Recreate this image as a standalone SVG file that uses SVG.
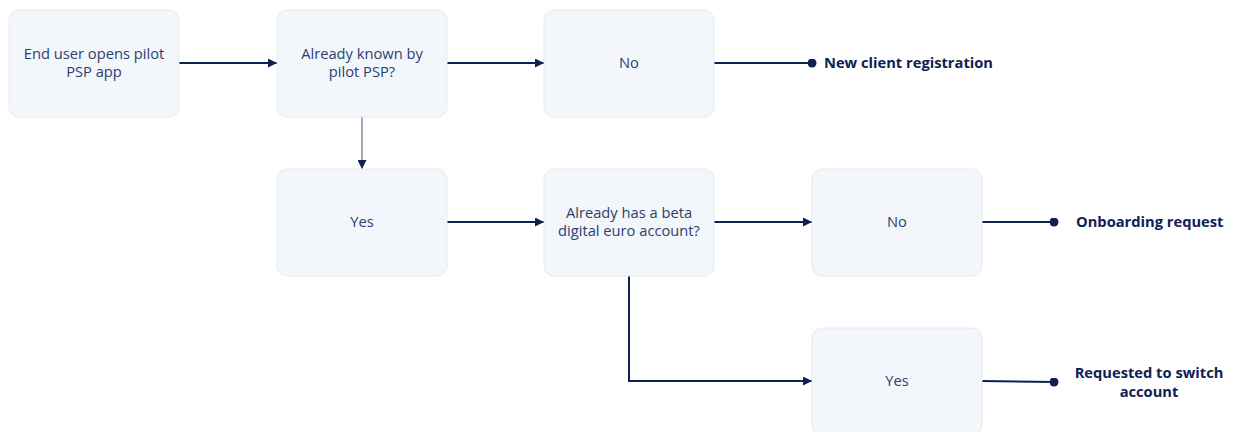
<svg xmlns="http://www.w3.org/2000/svg" width="1233" height="432" viewBox="0 0 1233 432">
  <style>
    .box { fill: #f3f6fb; stroke: #e6eaf1; stroke-width: 1; }
    .lbl { font-family: "Open Sans", "Liberation Sans", sans-serif; font-size: 14.7px; fill: #2c3f6e; text-anchor: middle; }
    .out { font-family: "Open Sans", "Liberation Sans", sans-serif; font-size: 14.7px; font-weight: bold; fill: #0e2152; }
    .edge { fill: none; stroke: #0e2152; stroke-width: 2; }
    .thin { fill: none; stroke: #6b7280; stroke-width: 1.2; }
  </style>
  <defs>
    <marker id="arrow" viewBox="0 0 10 10" refX="10" refY="5" markerWidth="9" markerHeight="9" markerUnits="userSpaceOnUse" orient="auto">
      <path d="M0,0 L10,5 L0,10 z" fill="#0e2152"/>
    </marker>
    <marker id="dot" viewBox="0 0 10 10" refX="5" refY="5" markerWidth="9" markerHeight="9" markerUnits="userSpaceOnUse">
      <circle cx="5" cy="5" r="5" fill="#0e2152"/>
    </marker>
  </defs>

  <g id="connectors">
    <path class="edge" d="M179,63 H277" marker-end="url(#arrow)"/>
    <path class="edge" d="M447,63 H544" marker-end="url(#arrow)"/>
    <path class="edge" d="M714,63 H812" marker-end="url(#dot)"/>
    <path class="thin" d="M362,117 V169" marker-end="url(#arrow)"/>
    <path class="edge" d="M447,222 H544" marker-end="url(#arrow)"/>
    <path class="edge" d="M714,222 H812" marker-end="url(#arrow)"/>
    <path class="edge" d="M982,222 H1054" marker-end="url(#dot)"/>
    <path class="edge" d="M629,276 V381 H812" marker-end="url(#arrow)"/>
    <path class="edge" d="M982,381 L1054,382" marker-end="url(#dot)"/>
  </g>

  <g id="start">
    <rect class="box" x="9" y="10" width="170" height="107" rx="10"/>
    <text class="lbl" x="94" y="59">End user opens pilot</text>
    <text class="lbl" x="94" y="77">PSP app</text>
  </g>
  <g id="known">
    <rect class="box" x="277" y="10" width="170" height="107" rx="10"/>
    <text class="lbl" x="362" y="59">Already known by</text>
    <text class="lbl" x="362" y="77">pilot PSP?</text>
  </g>
  <g id="known-no">
    <rect class="box" x="544" y="10" width="170" height="107" rx="10"/>
    <text class="lbl" x="629" y="68">No</text>
  </g>
  <g id="known-yes">
    <rect class="box" x="277" y="169" width="170" height="107" rx="10"/>
    <text class="lbl" x="362" y="227">Yes</text>
  </g>
  <g id="has-account">
    <rect class="box" x="544" y="169" width="170" height="107" rx="10"/>
    <text class="lbl" x="629" y="218">Already has a beta</text>
    <text class="lbl" x="629" y="236">digital euro account?</text>
  </g>
  <g id="account-no">
    <rect class="box" x="812" y="169" width="170" height="107" rx="10"/>
    <text class="lbl" x="897" y="227">No</text>
  </g>
  <g id="account-yes">
    <rect class="box" x="812" y="328" width="170" height="107" rx="10"/>
    <text class="lbl" x="897" y="386">Yes</text>
  </g>

  <g id="outcomes">
    <text class="out" x="824" y="68">New client registration</text>
    <text class="out" x="1076" y="227">Onboarding request</text>
    <text class="out" x="1149" y="378" text-anchor="middle">Requested to switch</text>
    <text class="out" x="1149" y="397" text-anchor="middle">account</text>
  </g>
</svg>
